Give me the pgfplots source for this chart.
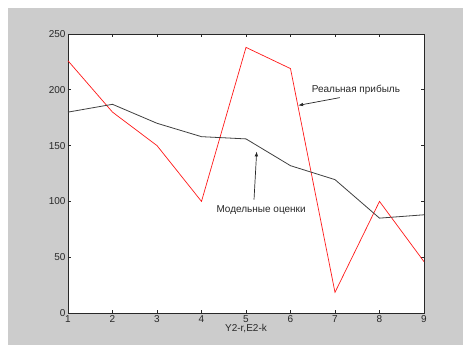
\documentclass[border=0pt]{standalone}
\usepackage{pgfplots}
\pgfplotsset{compat=1.18}
\usepackage{fontspec}
\setmainfont{Liberation Sans}
\usetikzlibrary{arrows.meta}
\definecolor{figgray}{RGB}{204,204,204}
\definecolor{axcol}{RGB}{40,40,40}
\begin{document}
\begin{tikzpicture}
\fill[white] (-68pt,-32pt) rectangle (395pt,313pt);
\fill[figgray] (-60pt,-32pt) rectangle (395pt,305pt);
\begin{axis}[
  scale only axis,
  width=356pt, height=279pt,
  at={(0,0)}, anchor=south west,
  xmin=1, xmax=9, ymin=0, ymax=250,
  xtick={1,...,9}, ytick={0,50,...,250},
  tick align=inside,
  major tick length=3pt,
  axis background/.style={fill=white},
  axis line style={axcol, line width=0.8pt},
  every tick/.style={axcol, line width=0.6pt},
  tick label style={font=\fontsize{10}{12}\selectfont, text=axcol},
  /pgf/number format/assume math mode=true,
  xticklabel style={yshift=1pt},
  yticklabel style={xshift=1pt},
  xlabel={Y2-r,E2-k},
  xlabel style={font=\fontsize{10}{12}\selectfont, text=axcol, yshift=5pt},
  clip=false,
]
\addplot[red!90!white, line width=0.7pt] coordinates {
(1,226) (2,180) (3,150) (4,100) (5,238) (6,219) (7,18.5) (8,100) (9,46)
};
\addplot[black!75, line width=0.8pt] coordinates {
(1,180) (2,187) (3,170) (4,158) (5,156) (6,132) (7,119.5) (8,85) (9,88)
};
\node[font=\fontsize{10}{12}\selectfont, text=axcol] at (axis cs:7.47,200) {Реальная прибыль};
\draw[axcol, line width=0.7pt, -{Latex[length=5pt,width=3.5pt]}] (axis cs:7.11,193) -- (axis cs:6.17,186);
\node[font=\fontsize{10}{12}\selectfont, text=axcol] at (axis cs:5.34,92.6) {Модельные оценки};
\draw[axcol, line width=0.7pt, -{Latex[length=5pt,width=3.5pt]}] (axis cs:5.18,101.5) -- (axis cs:5.24,144.8);
\end{axis}
\end{tikzpicture}
\end{document}
